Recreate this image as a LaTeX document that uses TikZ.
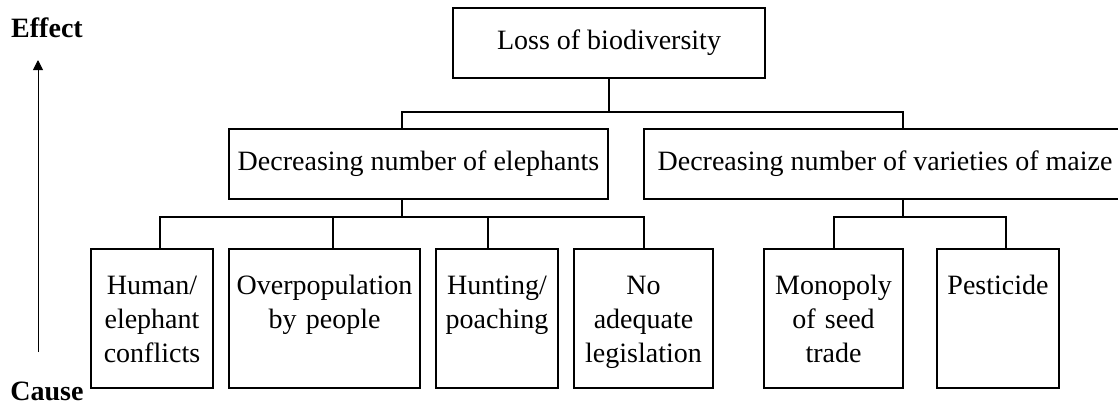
\documentclass[tikz,border=0pt]{standalone}
\usepackage{fontspec}
\setmainfont{Liberation Serif}
\usepackage{tikz}
\usetikzlibrary{positioning,arrows.meta,calc}

\begin{document}
\begin{tikzpicture}[x=0.5pt,y=-0.5pt,
  every node/.style={font=\fontsize{14}{17}\selectfont},
  topbox/.style={draw, line width=1pt, inner sep=0pt, minimum height=35pt, anchor=north west},
  causebox/.style={draw, line width=1pt, inner sep=0pt, anchor=north west, align=center,
    text width=#1, text height=22.5pt, text depth=47pt},
  link/.style={line width=1pt}]
\useasboundingbox (0,0) rectangle (1118,404);
\clip (0,0) rectangle (1118,404);

\node[font=\fontsize{14}{17}\selectfont\bfseries] (effect) at (47,28) {Effect};
\node[font=\fontsize{14}{17}\selectfont\bfseries] (cause) at (47,391) {Cause};
\coordinate (arrbot) at (38,352);
\coordinate (arrtop) at (38,60);
\draw[line width=.5pt, -{Triangle[length=5pt,width=5pt]}] (arrbot) -- (arrtop);

\node[topbox, minimum width=156pt] (loss) at (452,7) {Loss of biodiversity};
\node[topbox, minimum width=189.5pt] (eleph) at (228,128) {Decreasing number of elephants};
\node[topbox, minimum width=241pt] (maize) at (643,128) {Decreasing number of varieties of maize};

\node[causebox=61pt] (human) at (90,248) {Human/\\elephant\\conflicts};
\node[causebox=95.5pt] (overpop) at (228,248) {Overpopulation\\by people};
\node[causebox=61pt] (hunting) at (435,248) {Hunting/\\poaching};
\node[causebox=69.5pt] (noleg) at (573,248) {No\\adequate\\legislation};
\node[causebox=69.5pt] (monopoly) at (763,248) {Monopoly\\of seed\\trade};
\node[causebox=61pt] (pesticide) at (936,248) {Pesticide};

% top level
\coordinate (j1) at ($(loss.south)+(0,33)$);
\draw[link] (loss.south) -- (j1);
\draw[link] ([xshift=-8.25pt]eleph.north) |- (j1) -| ([xshift=9pt]maize.north);

% elephants
\coordinate (j2) at ($([xshift=-8.25pt]eleph.south)+(0,17)$);
\draw[link] ([xshift=-8.25pt]eleph.south) -- (j2);
\draw[link] ([xshift=4pt]human.north) |- (j2) -| (noleg.north);
\draw[link] ([xshift=4.25pt]overpop.north) -- ([xshift=4.25pt]overpop.north |- j2);
\draw[link] ([xshift=-4.5pt]hunting.north) -- ([xshift=-4.5pt]hunting.north |- j2);

% maize
\coordinate (j3) at ($([xshift=9pt]maize.south)+(0,17)$);
\draw[link] ([xshift=9pt]maize.south) -- (j3);
\draw[link] (monopoly.north) |- (j3) -| ([xshift=4pt]pesticide.north);
\end{tikzpicture}
\end{document}
